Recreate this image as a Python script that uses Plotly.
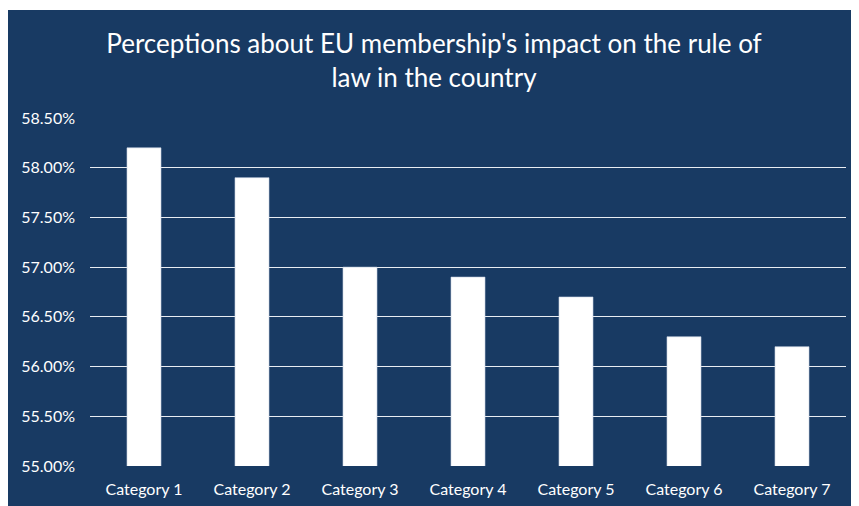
import plotly.graph_objects as go

categories = ["Category 1", "Category 2", "Category 3", "Category 4", "Category 5", "Category 6", "Category 7"]
values = [58.2, 57.9, 57.0, 56.9, 56.7, 56.3, 56.2]
tick_vals = [55.0, 55.5, 56.0, 56.5, 57.0, 57.5, 58.0, 58.5]
tick_text = ["55.00%", "55.50%", "56.00%", "56.50%", "57.00%", "57.50%", "58.00%", "58.50%"]
title = "Perceptions about EU membership's impact on the rule of<br>law in the country"

BG = "#183a63"
FONT = "Lato"

# page has an 8px body margin; compensate so the figure fills the window
OFF = 8
W, H = 859 - OFF, 506 - OFF
L, R, T, B = 90 - OFF, 13, 118 - OFF, 40
pw, ph = W - L - R, H - T - B

fig = go.Figure(go.Bar(
    x=categories, y=values, width=0.315,
    marker=dict(color="white", line=dict(color="#c8d2e0", width=0.6)),
))

fig.update_layout(
    width=W, height=H,
    margin=dict(l=L, r=R, t=T, b=B, autoexpand=False),
    paper_bgcolor=BG,
    plot_bgcolor="rgba(0,0,0,0)",
    showlegend=False,
    font=dict(family=FONT, color="white", size=16),
    title=dict(text=title, x=(434 - OFF) / W, xanchor="center", y=1 - 45 / H, yanchor="middle",
               font=dict(family=FONT, size=26, color="white")),
    shapes=[dict(type="rect", xref="paper", yref="paper", layer="below",
                 x0=-L / pw, x1=(W - L) / pw,
                 y0=(H - B - 2) / ph, y1=(H - B + 2) / ph,
                 fillcolor="white", line=dict(width=0))],
)
fig.update_yaxes(range=[55, 58.5], tickvals=tick_vals, ticktext=tick_text,
                 showgrid=True, gridcolor="#e8ecf2", gridwidth=1.3, zeroline=False,
                 showline=False, ticks="", ticklabelstandoff=14, automargin=False,
                 tickfont=dict(family=FONT, size=16, color="white"))
fig.update_xaxes(showgrid=False, showline=False, ticks="", ticklabelstandoff=12, automargin=False,
                 tickfont=dict(family=FONT, size=16, color="white"))

fig.write_html("out.html")
